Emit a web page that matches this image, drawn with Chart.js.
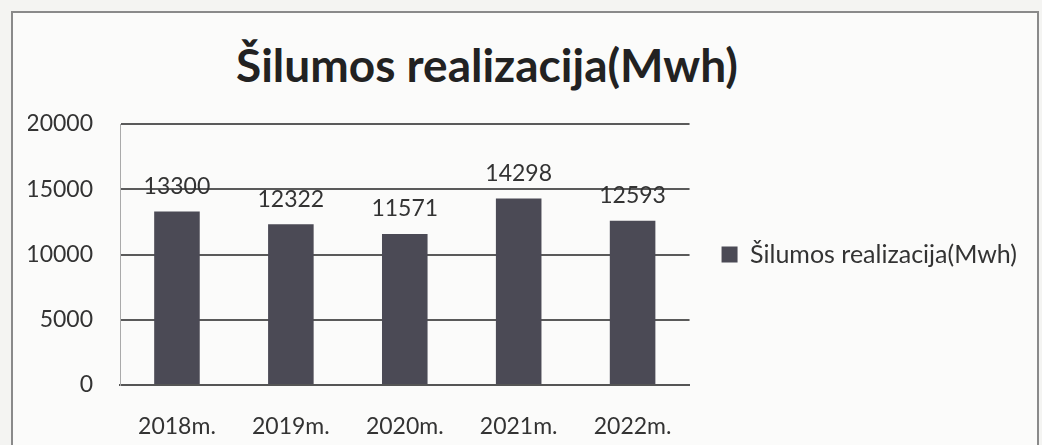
<!DOCTYPE html>
<html>
<head>
<meta charset="utf-8">
<script src="https://cdn.jsdelivr.net/npm/chart.js@4"></script>
<style>
  html, body { margin: 0; padding: 0; background: #f4f4f2; }
  #frame {
    position: absolute; left: 11px; top: 11px;
    width: 1024px; height: 440px;
    border: 2px solid #8a8a8a; background: #fbfbfa;
  }
  #title {
    position: absolute; left: 0; width: 948px; top: 24px;
    text-align: center;
    font: bold 46px Lato, sans-serif; color: #222;
  }
  #wrap { position: absolute; left: 0; top: 0; width: 1024px; height: 440px; }
</style>
</head>
<body>
<div id="frame">
  <div id="title"></div>
  <div id="wrap"><canvas id="chart"></canvas></div>
</div>
<script>
'use strict';

const titleText = 'Šilumos realizacija(Mwh)';
const years = ['2018m.', '2019m.', '2020m.', '2021m.', '2022m.'];
const heatSold = [13300, 12322, 11571, 14298, 12593];
const yTicks = [0, 5000, 10000, 15000, 20000];

document.getElementById('title').textContent = titleText;

// draws the value above each bar
const valueLabels = {
  id: 'valueLabels',
  afterDatasetsDraw(chart) {
    const ctx = chart.ctx;
    ctx.save();
    ctx.font = '23px Lato, sans-serif';
    ctx.fillStyle = '#333';
    ctx.textAlign = 'center';
    ctx.textBaseline = 'middle';
    chart.getDatasetMeta(0).data.forEach((bar, i) => {
      ctx.fillText(String(heatSold[i]), bar.x, bar.y - 25);
    });
    ctx.restore();
  }
};

function renderChart() {
  const ctx = document.getElementById('chart');

  new Chart(ctx, {
    type: 'bar',
    data: {
      labels: years,
      datasets: [{
        label: titleText,
        data: heatSold,
        backgroundColor: '#4b4a55',
        categoryPercentage: 1,
        barPercentage: 0.4
      }]
    },
    options: {
      responsive: true,
      maintainAspectRatio: false,
      animation: false,
      layout: { padding: { top: 111, left: 15, right: 10, bottom: 12 } },
      plugins: {
        title: { display: false },
        tooltip: { enabled: false },
        legend: {
          position: 'right',
          fullSize: false,
          maxWidth: 420,
          labels: {
            boxWidth: 16,
            boxHeight: 16,
            padding: 32,
            color: '#333',
            font: { family: 'Lato, sans-serif', size: 25 }
          }
        }
      },
      scales: {
        x: {
          grid: { display: false, drawTicks: false },
          border: { color: '#555', width: 2 },
          afterFit: s => { s.height = 56; },
          ticks: {
            color: '#333', padding: 28, maxRotation: 0, minRotation: 0,
            font: { family: 'Lato, sans-serif', size: 23 }
          }
        },
        y: {
          min: 0,
          max: 20000,
          afterBuildTicks: axis => { axis.ticks = yTicks.map(v => ({ value: v })); },
          afterFit: s => { s.width = 92; },
          grid: { color: '#5a5a5a', lineWidth: 2, drawTicks: false },
          border: { color: '#aaa', width: 1 },
          ticks: {
            color: '#333',
            padding: 27,
            font: { family: 'Lato, sans-serif', size: 23 },
            callback: v => String(v)
          }
        }
      }
    },
    plugins: [valueLabels]
  });
}

renderChart();
</script>
</body>
</html>
